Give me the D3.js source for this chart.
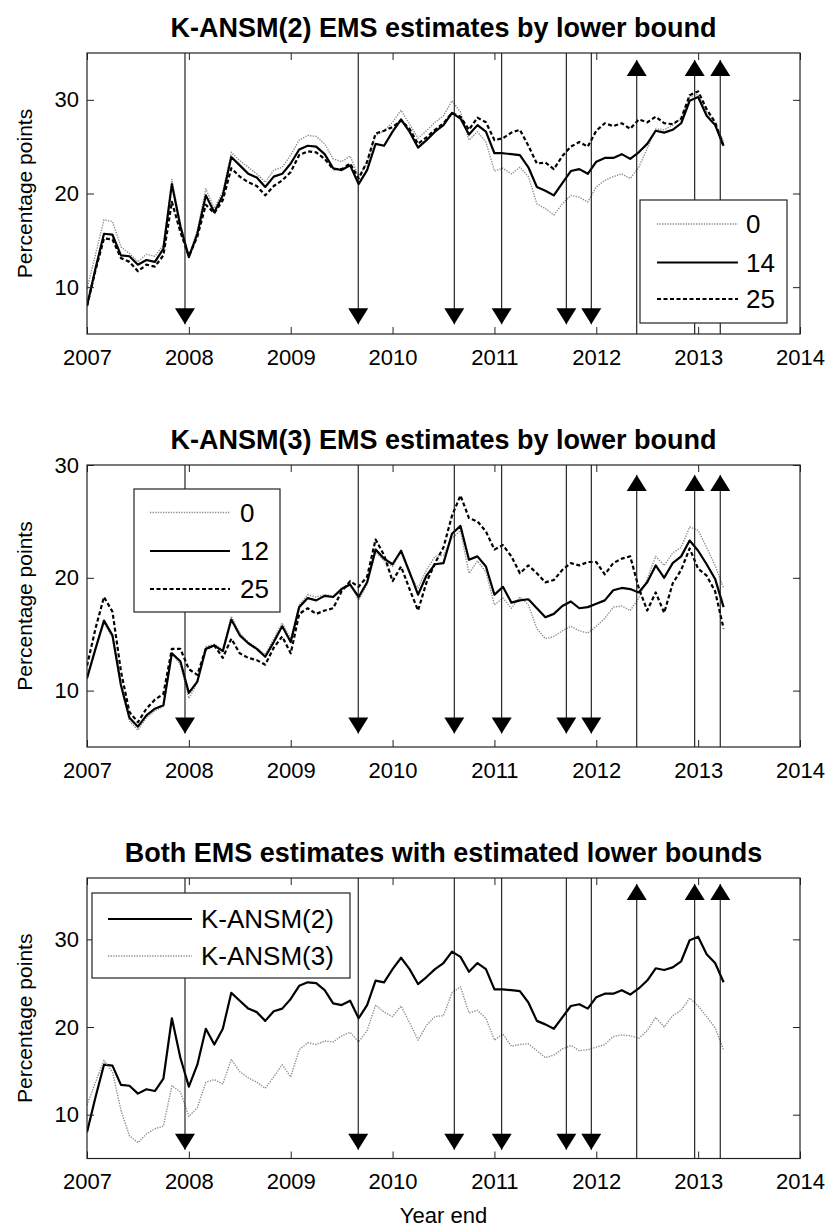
<!DOCTYPE html>
<html><head><meta charset="utf-8">
<script src="https://cdn.jsdelivr.net/npm/d3@7"></script>
<style>
body{margin:0;background:#fff}
svg{display:block}
text{font-family:"Liberation Sans",Arial,Helvetica,sans-serif;fill:#000}
</style>
</head><body>
<svg id="c" width="833" height="1230"></svg>
<script>
// ---------------- data ----------------
const startYear = 2007;              // first monthly observation
const xTicks = [2007, 2008, 2009, 2010, 2011, 2012, 2013, 2014];
const yTicks = [10, 20, 30];

// K-ANSM(2) EMS by lower bound (0, 14, 25 bp), monthly from 2007
const k2_lb0 = [9.8,13.5,17.2,17.0,14.3,13.6,12.7,13.5,13.3,14.5,21.5,16.8,13.3,16.1,20.5,18.4,20.2,24.4,23.5,22.8,22.1,21.2,22.5,22.8,24.1,25.7,26.2,26.1,25.3,23.7,23.4,24.0,21.8,23.2,26.2,26.7,27.6,28.9,27.4,25.9,26.7,27.6,28.3,29.9,28.7,25.7,26.6,25.5,22.4,22.7,22.1,22.8,21.8,18.9,18.4,17.7,18.9,19.8,19.6,19.1,20.7,21.4,21.8,22.1,21.6,22.8,24.8,26.9,26.8,27.3,28.0,30.3,30.6,28.7,27.4,25.6];
const k2_lb14 = [8.0,12.0,15.7,15.6,13.4,13.3,12.4,12.9,12.7,14.1,21.0,16.5,13.2,15.7,19.8,18.0,19.8,23.9,23.0,22.1,21.7,20.7,21.8,22.1,23.2,24.7,25.1,25.0,24.2,22.7,22.5,23.0,21.0,22.5,25.3,25.1,26.6,27.9,26.6,24.9,25.7,26.6,27.3,28.6,28.0,26.3,27.3,26.6,24.3,24.3,24.2,24.1,22.8,20.7,20.3,19.8,21.1,22.4,22.6,22.1,23.4,23.8,23.8,24.2,23.7,24.4,25.3,26.7,26.5,26.8,27.5,29.9,30.3,28.3,27.3,25.1];
const k2_lb25 = [8.0,11.8,15.2,15.1,13.1,12.7,11.7,12.4,12.2,13.4,19.1,15.9,13.3,15.4,18.8,17.9,19.3,22.7,21.8,21.2,20.8,19.8,20.8,21.4,22.3,24.1,24.5,24.4,23.7,22.6,22.6,23.2,21.6,23.4,26.4,26.7,27.1,27.8,26.9,25.3,26.0,26.8,27.5,28.6,28.2,26.8,28.1,27.6,25.7,25.9,26.5,26.8,25.1,23.2,23.3,22.6,24.0,25.0,25.5,25.0,26.7,27.5,27.2,27.5,26.9,27.9,27.6,28.2,27.5,27.4,28.0,30.5,30.9,29.0,27.6,25.0];

// K-ANSM(3) EMS by lower bound (0, 12, 25 bp)
const k3_lb0 = [11.0,13.7,16.0,14.7,10.3,7.3,6.5,7.6,8.2,8.6,13.3,12.3,9.3,10.7,13.9,14.1,13.6,16.6,15.1,14.3,13.8,13.2,14.6,16.0,14.6,17.6,18.5,18.3,18.5,18.4,19.1,19.5,18.0,19.4,22.3,21.5,21.0,22.3,20.3,19.1,20.7,21.9,22.0,23.5,24.2,20.4,21.5,20.5,17.6,18.2,17.3,18.3,17.6,15.5,14.6,14.8,15.3,15.7,15.3,15.1,15.7,16.4,17.4,17.5,17.1,18.2,19.9,21.9,21.1,22.2,22.7,24.5,24.2,22.7,21.1,19.1];
const k3_lb12 = [11.1,13.7,16.2,14.9,10.5,7.6,6.8,7.8,8.4,8.7,13.3,12.6,9.8,10.8,13.7,14.0,13.5,16.3,14.9,14.2,13.7,13.0,14.3,15.7,14.3,17.4,18.2,18.0,18.4,18.3,19.0,19.4,18.3,19.6,22.5,21.7,21.2,22.4,20.5,18.5,20.2,21.2,21.3,23.9,24.6,21.6,21.9,21.0,18.5,19.2,17.8,18.0,18.1,17.3,16.5,16.8,17.5,17.9,17.3,17.4,17.7,18.0,18.9,19.1,19.0,18.7,19.6,21.1,20.0,21.3,21.9,23.3,22.4,21.2,19.9,17.4];
const k3_lb25 = [12.2,15.5,18.3,17.0,11.7,8.1,7.2,8.4,9.2,9.7,13.7,13.7,11.9,11.4,13.7,14.0,12.9,14.6,13.3,12.9,12.7,12.3,13.8,14.8,13.3,16.8,17.3,16.8,17.1,17.3,18.8,19.7,19.2,20.1,23.4,22.0,19.7,21.0,19.0,17.1,19.6,21.3,22.7,25.5,27.3,25.3,25.0,24.1,22.5,22.9,21.9,20.4,21.1,20.4,19.6,19.8,20.7,21.3,21.1,21.4,21.4,20.3,21.3,21.7,21.9,19.1,17.1,18.7,16.9,19.5,20.7,22.6,20.8,20.2,18.8,15.5];

// event dates (year-end scale) and arrow direction
const eventDates = [2007.962, 2009.663, 2010.606, 2011.071, 2011.706, 2011.951, 2012.397, 2012.966, 2013.217];
const eventDirs  = ["down","down","down","down","down","down","up","up","up"];

// ---------------- drawing ----------------
const svg = d3.select("#c");
const FONT = '"Liberation Sans",Arial,Helvetica,sans-serif';
const x = d3.scaleLinear().domain([2007, 2014]).range([87, 800]);
const monthX = i => startYear + i / 12;

const styles = {
  gray:  {stroke:"#8c8c8c", width:1.4, dash:"1.3,1.3"},
  solid: {stroke:"#000", width:2.2, dash:null},
  dash:  {stroke:"#000", width:2.2, dash:"4,2.5"}
};

const panels = [
  {title:"K-ANSM(2) EMS estimates by lower bound", top:53, bottom:334, yDomain:[5,35],
   series:[{v:k2_lb0,s:"gray",label:"0"},{v:k2_lb14,s:"solid",label:"14"},{v:k2_lb25,s:"dash",label:"25"}],
   legend:{x0:640,x1:787,y0:200,y1:323,sx0:657,sx1:738,tx:746,rows:[224,262.5,299]}, xlabel:null},
  {title:"K-ANSM(3) EMS estimates by lower bound", top:465, bottom:747, yDomain:[5,30],
   series:[{v:k3_lb0,s:"gray",label:"0"},{v:k3_lb12,s:"solid",label:"12"},{v:k3_lb25,s:"dash",label:"25"}],
   legend:{x0:134,x1:280,y0:489,y1:612,sx0:150,sx1:230,tx:240,rows:[512.5,551,589]}, xlabel:null},
  {title:"Both EMS estimates with estimated lower bounds", top:878, bottom:1158.5, yDomain:[5,37],
   series:[{v:k2_lb14,s:"solid",label:"K-ANSM(2)"},{v:k3_lb12,s:"gray",label:"K-ANSM(3)"}],
   legend:{x0:92,x1:350,y0:893,y1:978,sx0:108,sx1:192,tx:201,rows:[919,956]}, xlabel:"Year end"}
];

panels.forEach(p => {
  const y = d3.scaleLinear().domain(p.yDomain).range([p.bottom, p.top]);
  const g = svg.append("g");

  // clip
  const cid = "clip" + p.top;
  svg.append("clipPath").attr("id", cid).append("rect")
    .attr("x", 87).attr("y", p.top).attr("width", 713).attr("height", p.bottom - p.top);

  // title
  g.append("text").attr("x", 443.5).attr("y", p.top - 16)
    .attr("text-anchor","middle").style("font-size","27px").style("font-weight","bold")
    .text(p.title);

  // series
  const line = d3.line().x((d,i) => x(monthX(i))).y(d => y(d));
  const sg = g.append("g").attr("clip-path", `url(#${cid})`);
  p.series.forEach(s => {
    const st = styles[s.s];
    sg.append("path").datum(s.v).attr("d", line)
      .attr("fill","none").attr("stroke", st.stroke).attr("stroke-width", st.width)
      .attr("stroke-dasharray", st.dash).attr("stroke-linejoin","round");
  });

  // event lines and arrows
  const downY = y(6.9), upY = y(p.yDomain[1] - 1.6);
  eventDates.forEach((d, i) => {
    const ex = x(d);
    if (eventDirs[i] === "down") {
      const tip = downY + 8;
      g.append("line").attr("x1", ex).attr("x2", ex).attr("y1", p.top).attr("y2", tip)
        .attr("stroke","#111").attr("stroke-width",1.1);
      g.append("path").attr("d", `M${ex-10},${downY-8}L${ex+10},${downY-8}L${ex},${tip}Z`).attr("fill","#000");
    } else {
      const tip = upY - 8;
      g.append("line").attr("x1", ex).attr("x2", ex).attr("y1", p.bottom).attr("y2", tip)
        .attr("stroke","#111").attr("stroke-width",1.1);
      g.append("path").attr("d", `M${ex-10},${upY+8}L${ex+10},${upY+8}L${ex},${tip}Z`).attr("fill","#000");
    }
  });

  // axes (ticks inside, box)
  const styleAxis = sel => {
    sel.select(".domain").remove();
    sel.selectAll(".tick line").attr("stroke","#222").attr("stroke-width",1);
    sel.selectAll(".tick text").attr("font-family", FONT).style("font-size","22px").attr("fill","#000");
  };
  g.append("g").attr("transform",`translate(0,${p.bottom})`)
    .call(d3.axisBottom(x).tickValues(xTicks).tickFormat(d3.format("d")).tickSize(-7).tickPadding(15))
    .call(styleAxis);
  g.append("g").attr("transform",`translate(0,${p.top})`)
    .call(d3.axisTop(x).tickValues(xTicks).tickFormat("").tickSize(-7))
    .call(styleAxis);
  g.append("g").attr("transform","translate(87,0)")
    .call(d3.axisLeft(y).tickValues(yTicks).tickSize(-7).tickPadding(8))
    .call(styleAxis);
  g.append("g").attr("transform","translate(800,0)")
    .call(d3.axisRight(y).tickValues(yTicks).tickFormat("").tickSize(-7))
    .call(styleAxis);
  g.append("rect").attr("x",87).attr("y",p.top).attr("width",713).attr("height",p.bottom-p.top)
    .attr("fill","none").attr("stroke","#222").attr("stroke-width",1.2);

  // y label
  g.append("text").attr("transform",`translate(32,${(p.top+p.bottom)/2}) rotate(-90)`)
    .attr("text-anchor","middle").style("font-size","21px").text("Percentage points");

  if (p.xlabel) {
    g.append("text").attr("x",443.5).attr("y",1223).attr("text-anchor","middle")
      .style("font-size","22px").text(p.xlabel);
  }

  // legend
  const L = p.legend;
  const lg = g.append("g");
  lg.append("rect").attr("x",L.x0).attr("y",L.y0).attr("width",L.x1-L.x0).attr("height",L.y1-L.y0)
    .attr("fill","#fff").attr("stroke","#222").attr("stroke-width",1.2);
  p.series.forEach((s, i) => {
    const st = styles[s.s];
    lg.append("line").attr("x1",L.sx0).attr("x2",L.sx1).attr("y1",L.rows[i]).attr("y2",L.rows[i])
      .attr("stroke",st.stroke).attr("stroke-width",st.width).attr("stroke-dasharray",st.dash);
    lg.append("text").attr("x",L.tx).attr("y",L.rows[i]+9.3).style("font-size","26px").text(s.label);
  });
});
</script>
</body></html>
